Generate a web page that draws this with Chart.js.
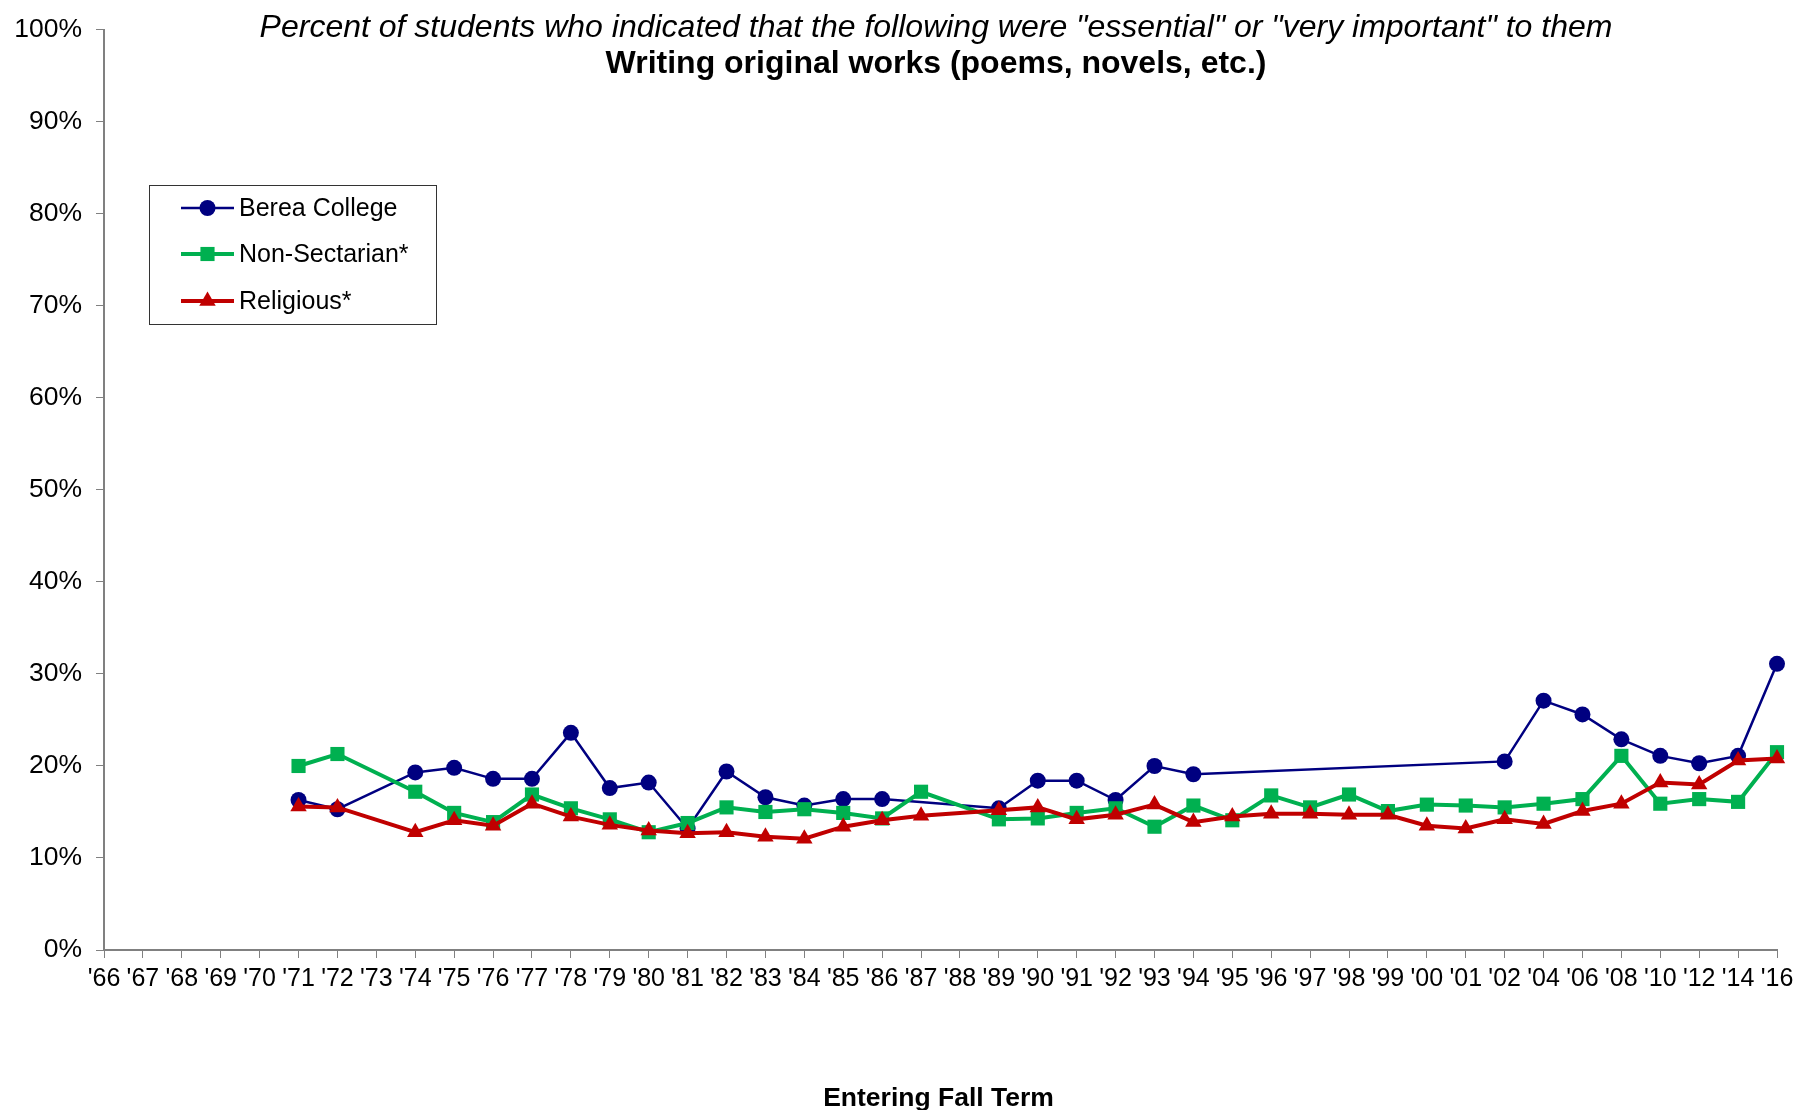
<!DOCTYPE html>
<html>
<head>
<meta charset="utf-8">
<title>Writing original works</title>
<script src="https://cdn.jsdelivr.net/npm/chart.js@4.4.1/dist/chart.umd.min.js"></script>
<style>
  body { margin: 0; background: #fff; }
  #wrap { width: 1800px; height: 1110px; }
</style>
</head>
<body>
<div id="wrap"><canvas id="graf" width="1800" height="1110"></canvas></div>
<script>
// data
var roky = ["'66", "'67", "'68", "'69", "'70", "'71", "'72", "'73", "'74", "'75", "'76", "'77", "'78", "'79",
  "'80", "'81", "'82", "'83", "'84", "'85", "'86", "'87", "'88", "'89", "'90", "'91", "'92", "'93", "'94",
  "'95", "'96", "'97", "'98", "'99", "'00", "'01", "'02", "'04", "'06", "'08", "'10", "'12", "'14", "'16"];

var berea = [null, null, null, null, null,
  16.3, 15.3, null, 19.3, 19.8, 18.6, 18.6, 23.6, 17.6, 18.2, 13.2, 19.4, 16.6, 15.7, 16.4, 16.4, null, null,
  15.4, 18.4, 18.4, 16.3, 20.0, 19.1,
  null, null, null, null, null, null, null,
  20.5, 27.1, 25.6, 22.9, 21.1, 20.3, 21.1, 31.1];

var nonsect = [null, null, null, null, null,
  20.0, 21.3, null, 17.2, 14.9, 13.9, 16.9, 15.4, 14.2, 12.8, 13.8, 15.5, 15.0, 15.3, 14.9, 14.3, 17.2, null,
  14.2, 14.3, 14.9, 15.4, 13.4, 15.7,
  14.1, 16.8, 15.5, 16.9, 15.1, 15.8, 15.7,
  15.5, 15.9, 16.4, 21.1, 15.9, 16.4, 16.1, 21.5];

var religious = [null, null, null, null, null,
  15.6, 15.5, null, 12.8, 14.1, 13.5, 15.9, 14.5, 13.6, 13.0, 12.7, 12.8, 12.3, 12.1, 13.4, 14.1, 14.6, null,
  15.2, 15.5, 14.2, 14.7, 15.8, 13.9,
  14.5, 14.8, 14.8, 14.7, 14.7, 13.5, 13.2,
  14.2, 13.7, 15.1, 15.9, 18.2, 18.0, 20.6, 20.8];

var nazvy = ["Berea College", "Non-Sectarian*", "Religious*"];
var barvy = ["#000080", "#00B050", "#C00000"];

var nadpis1 = 'Percent of students who indicated that the following were "essential" or "very important" to them';
var nadpis2 = "Writing original works (poems, novels, etc.)";
var osaX = "Entering Fall Term";

var pismo = "'Liberation Sans', Arial, sans-serif";

// znacka do legendy
function znacka(ctx, styl, x, y, r, barva) {
  ctx.fillStyle = barva;
  ctx.beginPath();
  if (styl == "circle") {
    ctx.arc(x, y, r, 0, Math.PI * 2);
  } else if (styl == "rect") {
    var s = r * Math.SQRT1_2;
    ctx.rect(x - s, y - s, 2 * s, 2 * s);
  } else {
    ctx.moveTo(x, y - r);
    ctx.lineTo(x + r * 0.866, y + r * 0.5);
    ctx.lineTo(x - r * 0.866, y + r * 0.5);
    ctx.closePath();
  }
  ctx.fill();
}

// nadpis, popis osy a legenda
var popisky = {
  id: "popisky",
  afterDraw: function (chart) {
    var ctx = chart.ctx;
    var a = chart.chartArea;
    ctx.save();
    ctx.fillStyle = "#000";
    ctx.textAlign = "center";
    ctx.textBaseline = "middle";
    ctx.font = "italic 32px " + pismo;
    ctx.fillText(nadpis1, 936, 28);
    ctx.font = "bold 32px " + pismo;
    ctx.fillText(nadpis2, 936, 64);
    ctx.font = "bold 26.5px " + pismo;
    ctx.fillText(osaX, (a.left + a.right) / 2 - 2, 1099);

    // legenda
    ctx.strokeStyle = "#333";
    ctx.lineWidth = 1;
    ctx.strokeRect(149.5, 185.5, 287, 139);
    var ys = [208, 254, 301];
    for (var i = 0; i < 3; i++) {
      var ds = chart.data.datasets[i];
      ctx.strokeStyle = ds.borderColor;
      ctx.lineWidth = ds.borderWidth;
      ctx.beginPath();
      ctx.moveTo(181, ys[i]);
      ctx.lineTo(234, ys[i]);
      ctx.stroke();
      znacka(ctx, ds.pointStyle, 207.5, ys[i], ds.pointRadius, ds.borderColor);
      ctx.fillStyle = "#000";
      ctx.textAlign = "left";
      ctx.font = "25px " + pismo;
      ctx.fillText(nazvy[i], 239, ys[i] + 1);
    }
    ctx.restore();
  }
};

let graf = document.getElementById("graf").getContext("2d");
let SF = new Chart(graf, {
  type: "line",
  data: {
    labels: roky,
    datasets: [
      {
        label: nazvy[0],
        data: berea,
        borderColor: barvy[0],
        backgroundColor: barvy[0],
        borderWidth: 2.5,
        pointStyle: "circle",
        pointRadius: 8,
        pointBorderWidth: 0,
        spanGaps: true,
        order: 3
      },
      {
        label: nazvy[1],
        data: nonsect,
        borderColor: barvy[1],
        backgroundColor: barvy[1],
        borderWidth: 4,
        pointStyle: "rect",
        pointRadius: 10,
        pointBorderWidth: 0,
        spanGaps: true,
        order: 2
      },
      {
        label: nazvy[2],
        data: religious,
        borderColor: barvy[2],
        backgroundColor: barvy[2],
        borderWidth: 4,
        pointStyle: "triangle",
        pointRadius: 9.5,
        pointBorderWidth: 0,
        spanGaps: true,
        order: 1
      }
    ]
  },
  options: {
    responsive: false,
    animation: false,
    devicePixelRatio: 1,
    layout: { padding: { left: 0, right: 23, top: 28, bottom: 0 } },
    plugins: {
      legend: { display: false },
      title: { display: false },
      tooltip: { enabled: false }
    },
    scales: {
      x: {
        offset: false,
        afterFit: function (s) {
          s.height = 160;
          s.paddingLeft = 0;
          s.paddingRight = 0;
        },
        border: { color: "#808080", width: 2 },
        grid: { drawOnChartArea: false, tickLength: 8, color: "#808080", lineWidth: 1 },
        ticks: {
          autoSkip: false,
          maxRotation: 0,
          padding: 6,
          color: "#000",
          font: { family: pismo, size: 25 }
        }
      },
      y: {
        min: 0,
        max: 100,
        afterFit: function (s) { s.width = 104; },
        border: { color: "#808080", width: 2 },
        grid: { drawOnChartArea: false, tickLength: 8, color: "#808080", lineWidth: 1 },
        ticks: {
          stepSize: 10,
          padding: 14,
          color: "#000",
          font: { family: pismo, size: 26.5 },
          callback: function (v) { return v + "%"; }
        }
      }
    }
  },
  plugins: [popisky]
});
</script>
</body>
</html>
